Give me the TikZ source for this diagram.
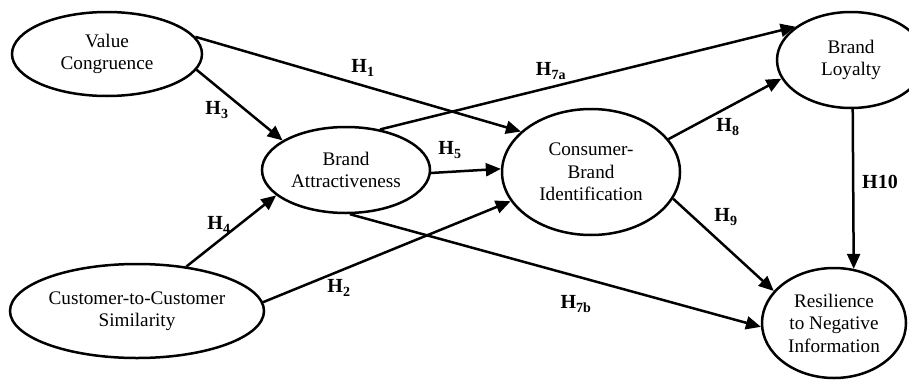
\documentclass[tikz,border=0pt]{standalone}
\usepackage{fontspec}
\setmainfont{Liberation Serif}
\usetikzlibrary{shapes.geometric,arrows.meta}
\begin{document}
\begin{tikzpicture}[x=1pt,y=-1pt,
  construct/.style={ellipse, draw, line width=2.5pt, inner sep=0pt, align=center,
    font=\fontsize{19.2}{22.5}\selectfont},
  link/.style={line width=2.5pt, -{Triangle[length=15pt,width=13pt]}},
  hyp/.style={font=\fontsize{20}{22}\selectfont\bfseries, inner sep=1pt},
  masked/.style={fill=white}]
\useasboundingbox (0,0) rectangle (909,380);
\clip (0,0) rectangle (909,380);

% constructs
\node[construct, minimum width=190pt, minimum height=84pt]  (vc)  at (107,54)  {Value\\Congruence};
\node[construct, minimum width=168pt, minimum height=86pt]  (ba)  at (346,170) {Brand\\Attractiveness};
\node[construct, minimum width=254pt, minimum height=94pt]  (ccs) at (137,311) {Customer-to-Customer\\Similarity};
\node[construct, minimum width=178pt, minimum height=126pt] (cbi) at (591,172) {Consumer-\\Brand\\Identification};
\node[construct, minimum width=148pt, minimum height=96pt]  (bl)  at (851,60)  {Brand\\Loyalty};
\node[construct, minimum width=144pt, minimum height=110pt] (rni) at (834,323) {Resilience\\to Negative\\Information};

% hypothesised paths
\draw[link] (vc.11)  -- (cbi.150);
\draw[link] (vc.-10) -- (ba.155);
\draw[link] (ccs.42) -- (ba.200);
\draw[link] (ccs.4)  -- (cbi.200);
\draw[link] (ba.50)  -- (bl.149);
\draw[link] (ba.-2)  -- (cbi.178);
\draw[link] (ba.-85) -- (rni.183);
\draw[link] (cbi.23) -- (bl.195);
\draw[link] (cbi.-18) -- (rni.152);
\draw[link] (bl.-88) -- (rni.70);

% path labels
\node[hyp] (h1)  at (363,68)  {H\textsubscript{1}};
\node[hyp] (h3)  at (217,110) {H\textsubscript{3}};
\node[hyp] (h4)  at (219,225) {H\textsubscript{4}};
\node[hyp] (h2)  at (339,288) {H\textsubscript{2}};
\node[hyp] (h5)  at (450,150) {H\textsubscript{5}};
\node[hyp, masked] (h7a) at (551,71) {H\textsubscript{7a}};
\node[hyp] (h7b) at (576,304) {H\textsubscript{7b}};
\node[hyp] (h8)  at (728,127) {H\textsubscript{8}};
\node[hyp] (h9)  at (726,217) {H\textsubscript{9}};
\node[hyp] (h10) at (880,182) {H10};
\end{tikzpicture}
\end{document}
